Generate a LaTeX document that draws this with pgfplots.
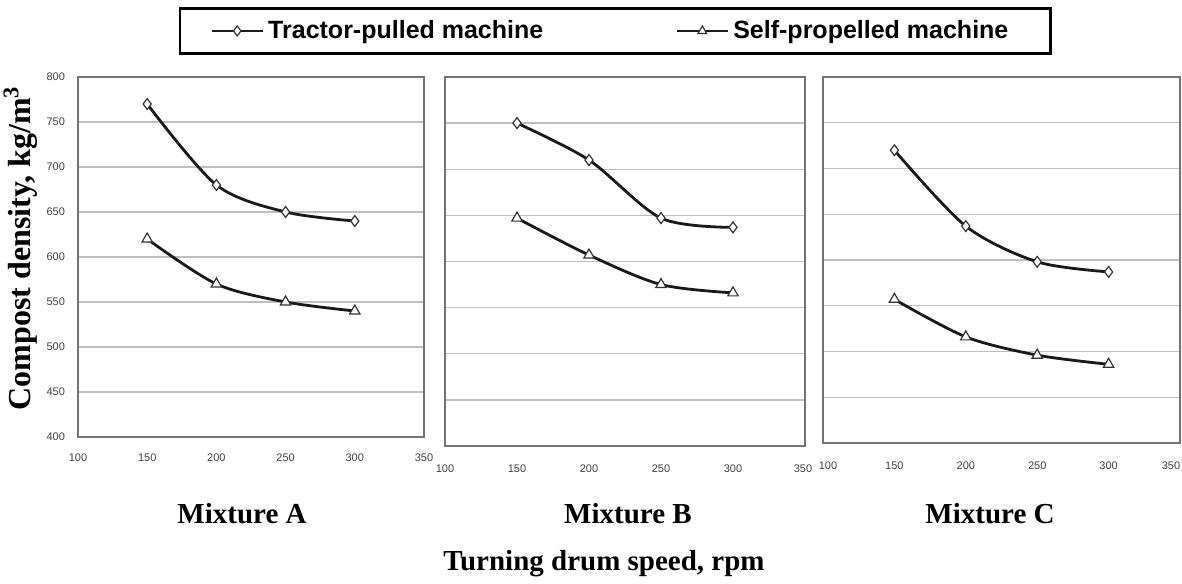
\documentclass[border=0pt]{standalone}
\usepackage{pgfplots}
\pgfplotsset{compat=1.18}
\usepackage{fontspec}
\setmainfont{Liberation Serif}
\newfontfamily\arialfont{Liberation Sans}

\pgfplotsset{
  panel/.style={
    scale only axis, anchor=north west,
    xmin=100, xmax=350, ymin=400, ymax=800,
    xtick={100,150,...,350}, ytick={400,450,...,800},
    ymajorgrids,
    major grid style={draw=black!25, line width=0.7pt},
    axis line style={draw=black!55, line width=1.1pt},
    major tick length=0pt,
    tick label style={font=\arialfont\fontsize{5.5}{6}\selectfont, text=black!75},
    yticklabel style={xshift=-3pt},
    /pgf/number format/assume math mode=true,
    /pgf/number format/1000 sep={},
  },
  tractor/.style={black!90, line width=1.4pt, smooth, tension=0.5,
    mark=diamond*, mark size=2.7pt,
    mark options={fill=white, draw=black!80, line width=0.6pt, solid}},
  selfp/.style={black!90, line width=1.4pt, smooth, tension=0.5,
    mark=triangle*, mark size=3pt,
    mark options={fill=white, draw=black!80, line width=0.6pt, solid}},
}

\begin{document}
\begin{tikzpicture}
\path[use as bounding box] (0,0) rectangle (591pt,-291.5pt);

% Panel A
\begin{axis}[panel, at={(39pt,-38.5pt)}, width=173pt, height=180pt,
  xticklabel style={yshift=-5pt},
  legend columns=2,
  legend style={at={(0.292,1.194)}, anchor=north west, draw=black, line width=1.2pt,
    font=\arialfont\bfseries\fontsize{12.5}{14}\selectfont,
    inner xsep=15pt, inner ysep=4pt,
    /tikz/every even column/.append style={column sep=64pt}},
  legend image code/.code={
    \draw[#1, line width=1.4pt, mark repeat=2, mark phase=2, mark size=2.5pt]
      plot coordinates {(0cm,0cm) (0.45cm,0cm) (0.9cm,0cm)};}
]
\addplot[tractor] coordinates {(150,770) (200,680) (250,650) (300,640)};
\addlegendentry{Tractor-pulled machine}
\addplot[selfp] coordinates {(150,620) (200,570) (250,550) (300,540)};
\addlegendentry{Self-propelled machine\hspace*{4pt}}
\end{axis}

% Panel B
\begin{axis}[panel, at={(222.5pt,-38.5pt)}, width=180pt, height=184.5pt,
  yticklabels={}, xticklabel style={yshift=-6pt},
  xticklabels={100,150,200,250,300,{350\hspace*{2pt}}}]
\addplot[tractor] coordinates {(150,750) (200,710) (250,647) (300,637)};
\addplot[selfp] coordinates {(150,647) (200,607) (250,575) (300,566)};
\end{axis}

% Panel C
\begin{axis}[panel, at={(411.5pt,-38.5pt)}, width=178.5pt, height=183pt,
  yticklabels={}, xticklabel style={yshift=-6pt},
  xticklabels={{\hspace*{5pt}100},150,200,250,300,{350\hspace*{9pt}}}]
\addplot[tractor] coordinates {(150,720) (200,637) (250,598) (300,587)};
\addplot[selfp] coordinates {(150,557) (200,516) (250,496) (300,486)};
\end{axis}

\node[font=\bfseries\fontsize{14.5}{17}\selectfont, anchor=base] at (121pt,-261.5pt) {Mixture A};
\node[font=\bfseries\fontsize{14.5}{17}\selectfont, anchor=base] at (314pt,-261.5pt) {Mixture B};
\node[font=\bfseries\fontsize{14.5}{17}\selectfont, anchor=base] at (495pt,-261.5pt) {Mixture C};
\node[font=\bfseries\fontsize{14.5}{17}\selectfont, anchor=base] at (302pt,-285pt) {Turning drum speed, rpm};
\node[font=\bfseries\fontsize{16}{18}\selectfont, rotate=90, anchor=base] at (15.5pt,-124pt) {Compost density, kg/m\textsuperscript{3}};
\end{tikzpicture}
\end{document}
